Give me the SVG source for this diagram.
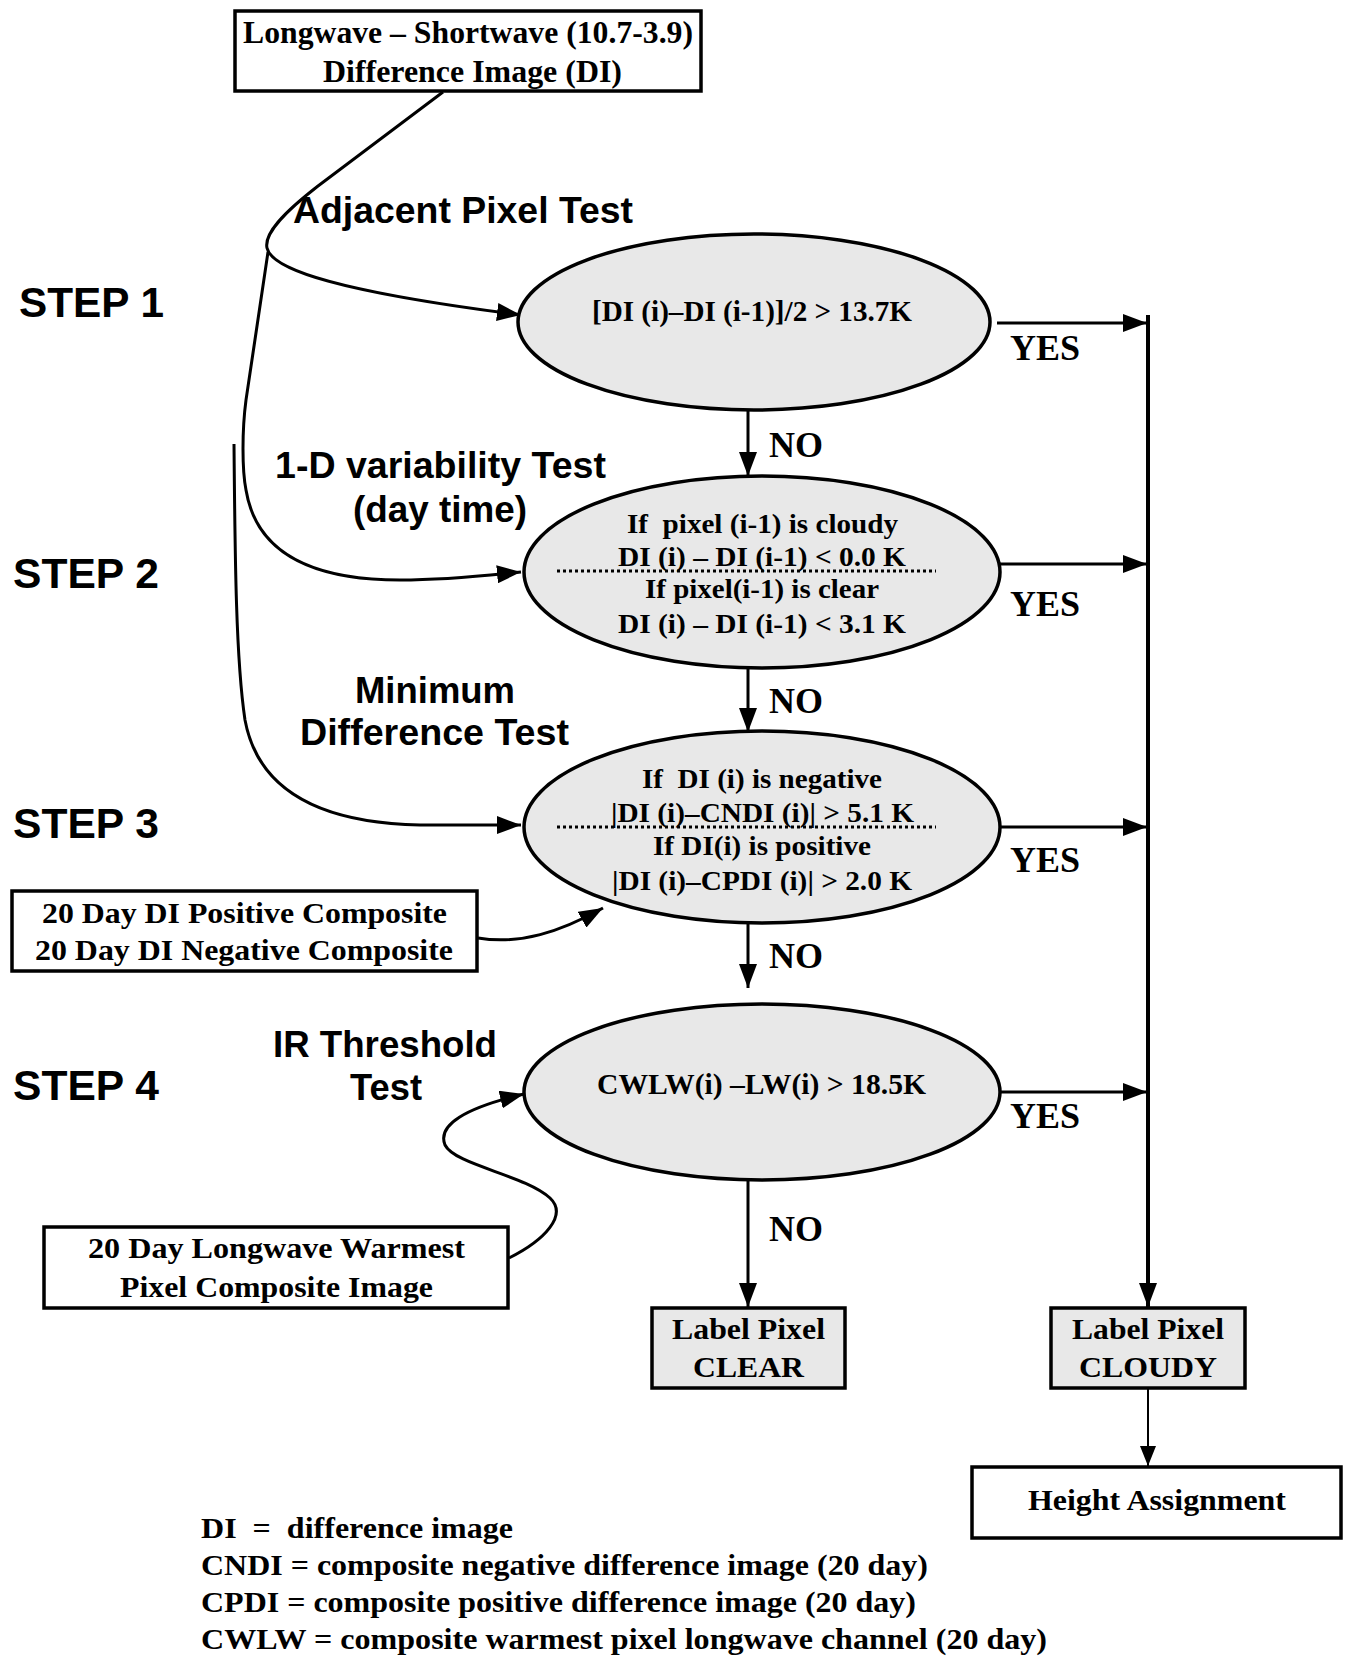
<svg xmlns="http://www.w3.org/2000/svg" width="1348" height="1658" viewBox="0 0 1348 1658">
<style>
.bg{fill:#ffffff}
.box{fill:#ffffff;stroke:#000;stroke-width:3.5}
.gbox{fill:#e8e8e8;stroke:#000;stroke-width:3.5}
.ell{fill:#e8e8e8;stroke:#000;stroke-width:3.5}
.ln{fill:none;stroke:#000;stroke-width:3}
.thin{fill:none;stroke:#000;stroke-width:2}
.dot{fill:none;stroke:#000;stroke-width:3;stroke-dasharray:3 3}
.tb{font-family:"Liberation Serif","Times New Roman",serif;font-weight:bold;fill:#000}
.sb{font-family:"Liberation Sans",Arial,sans-serif;font-weight:bold;fill:#000}
</style>
<defs>
<marker id="arr" markerUnits="userSpaceOnUse" markerWidth="24" markerHeight="18" refX="24" refY="9" orient="auto">
<path d="M0,0 L24,9 L0,18 z" fill="#000"/>
</marker>
<marker id="arrs" markerUnits="userSpaceOnUse" markerWidth="20" markerHeight="16" refX="20" refY="8" orient="auto">
<path d="M0,0 L20,8 L0,16 z" fill="#000"/>
</marker>
</defs>
<rect class="bg" x="0" y="0" width="1348" height="1658"/>

<g id="connectors">
<path class="ln" d="M443 92 L318 186 C282 214 264 234 267 248 C272 270 340 292 521 315" marker-end="url(#arr)"/>
<path class="ln" d="M268 252 L246 400 C242 430 242 470 246 490 C255 545 300 580 400 580 C450 580 490 575 521 572" marker-end="url(#arr)"/>
<path class="ln" d="M234 444 C235 560 236 660 245 720 C258 790 320 823 420 825 L521 825" marker-end="url(#arr)"/>
<path class="ln" d="M478 938 C520 945 560 932 603 908" marker-end="url(#arr)"/>
<path class="ln" d="M509 1258 C545 1240 568 1215 550 1198 C525 1175 455 1165 445 1145 C437 1125 465 1108 524 1094" marker-end="url(#arr)"/>
<path class="ln" d="M748 410 L748 476" marker-end="url(#arr)"/>
<path class="ln" d="M748 668 L748 732" marker-end="url(#arr)"/>
<path class="ln" d="M748 923 L748 988" marker-end="url(#arr)"/>
<path class="ln" d="M748 1179 L748 1307" marker-end="url(#arr)"/>
<path class="ln" d="M997 323 L1147 323" marker-end="url(#arr)"/>
<path class="ln" d="M1000 564 L1147 564" marker-end="url(#arr)"/>
<path class="ln" d="M1000 827 L1147 827" marker-end="url(#arr)"/>
<path class="ln" d="M1000 1092 L1147 1092" marker-end="url(#arr)"/>
<path class="ln" style="stroke-width:4" d="M1148 315 L1148 1307" marker-end="url(#arr)"/>
<path class="thin" d="M1148 1388 L1148 1466" marker-end="url(#arrs)"/>
<text class="tb" x="1010" y="360" font-size="36" textLength="70" lengthAdjust="spacingAndGlyphs">YES</text>
<text class="tb" x="1010" y="616" font-size="36" textLength="70" lengthAdjust="spacingAndGlyphs">YES</text>
<text class="tb" x="1010" y="872" font-size="36" textLength="70" lengthAdjust="spacingAndGlyphs">YES</text>
<text class="tb" x="1010" y="1128" font-size="36" textLength="70" lengthAdjust="spacingAndGlyphs">YES</text>
<text class="tb" x="769" y="457" font-size="36" textLength="54" lengthAdjust="spacingAndGlyphs">NO</text>
<text class="tb" x="769" y="713" font-size="36" textLength="54" lengthAdjust="spacingAndGlyphs">NO</text>
<text class="tb" x="769" y="968" font-size="36" textLength="54" lengthAdjust="spacingAndGlyphs">NO</text>
<text class="tb" x="769" y="1241" font-size="36" textLength="54" lengthAdjust="spacingAndGlyphs">NO</text>
</g>

<g id="labels">
<text class="sb" x="19" y="317" font-size="42" textLength="145" lengthAdjust="spacingAndGlyphs">STEP 1</text>
<text class="sb" x="13" y="588" font-size="42" textLength="146" lengthAdjust="spacingAndGlyphs">STEP 2</text>
<text class="sb" x="13" y="838" font-size="42" textLength="146" lengthAdjust="spacingAndGlyphs">STEP 3</text>
<text class="sb" x="13" y="1100" font-size="42" textLength="146" lengthAdjust="spacingAndGlyphs">STEP 4</text>
<text class="sb" x="293" y="223" font-size="36" textLength="340" lengthAdjust="spacingAndGlyphs">Adjacent Pixel Test</text>
<text class="sb" x="275" y="478" font-size="36" textLength="331" lengthAdjust="spacingAndGlyphs">1-D variability Test</text>
<text class="sb" x="353" y="522" font-size="36" textLength="174" lengthAdjust="spacingAndGlyphs">(day time)</text>
<text class="sb" x="355" y="703" font-size="36" textLength="160" lengthAdjust="spacingAndGlyphs">Minimum</text>
<text class="sb" x="300" y="745" font-size="36" textLength="269" lengthAdjust="spacingAndGlyphs">Difference Test</text>
<text class="sb" x="273" y="1057" font-size="36" textLength="224" lengthAdjust="spacingAndGlyphs">IR Threshold</text>
<text class="sb" x="350" y="1100" font-size="36" textLength="72" lengthAdjust="spacingAndGlyphs">Test</text>
</g>

<g id="node-source">
<rect class="box" x="235" y="11" width="466" height="80"/>
<text class="tb" x="243" y="43" font-size="31" textLength="450" lengthAdjust="spacingAndGlyphs">Longwave – Shortwave (10.7-3.9)</text>
<text class="tb" x="323" y="82" font-size="31" textLength="299" lengthAdjust="spacingAndGlyphs">Difference Image (DI)</text>
</g>

<g id="node-step1">
<ellipse class="ell" cx="754" cy="322" rx="236" ry="88"/>
<text class="tb" x="592" y="321" font-size="29" textLength="320" lengthAdjust="spacingAndGlyphs">[DI (i)–DI (i-1)]/2 &gt; 13.7K</text>
</g>

<g id="node-step2">
<ellipse class="ell" cx="762" cy="572" rx="238" ry="96"/>
<text class="tb" x="627" y="533" font-size="28" textLength="271" lengthAdjust="spacingAndGlyphs" xml:space="preserve">If  pixel (i-1) is cloudy</text>
<text class="tb" x="618" y="566" font-size="28" textLength="288" lengthAdjust="spacingAndGlyphs">DI (i) – DI (i-1) &lt; 0.0 K</text>
<path class="dot" d="M557 571 L936 571"/>
<text class="tb" x="645" y="598" font-size="28" textLength="234" lengthAdjust="spacingAndGlyphs">If pixel(i-1) is clear</text>
<text class="tb" x="618" y="633" font-size="28" textLength="288" lengthAdjust="spacingAndGlyphs">DI (i) – DI (i-1) &lt; 3.1 K</text>
</g>

<g id="node-step3">
<ellipse class="ell" cx="762" cy="827" rx="238" ry="96"/>
<text class="tb" x="642" y="788" font-size="28" textLength="240" lengthAdjust="spacingAndGlyphs" xml:space="preserve">If  DI (i) is negative</text>
<text class="tb" x="611" y="822" font-size="28" textLength="303" lengthAdjust="spacingAndGlyphs">|DI (i)–CNDI (i)| &gt; 5.1 K</text>
<path class="dot" d="M557 827 L936 827"/>
<text class="tb" x="653" y="855" font-size="28" textLength="218" lengthAdjust="spacingAndGlyphs">If DI(i) is positive</text>
<text class="tb" x="612" y="890" font-size="28" textLength="300" lengthAdjust="spacingAndGlyphs">|DI (i)–CPDI (i)| &gt; 2.0 K</text>
</g>

<g id="node-step4">
<ellipse class="ell" cx="762" cy="1092" rx="238" ry="88"/>
<text class="tb" x="597" y="1094" font-size="29" textLength="329" lengthAdjust="spacingAndGlyphs">CWLW(i) –LW(i) &gt; 18.5K</text>
</g>

<g id="node-composite">
<rect class="box" x="12" y="891" width="465" height="80"/>
<text class="tb" x="42" y="923" font-size="29" textLength="405" lengthAdjust="spacingAndGlyphs">20 Day DI Positive Composite</text>
<text class="tb" x="35" y="960" font-size="29" textLength="418" lengthAdjust="spacingAndGlyphs">20 Day DI Negative Composite</text>
</g>

<g id="node-warmest">
<rect class="box" x="44" y="1227" width="464" height="81"/>
<text class="tb" x="88" y="1258" font-size="29" textLength="377" lengthAdjust="spacingAndGlyphs">20 Day Longwave Warmest</text>
<text class="tb" x="120" y="1297" font-size="29" textLength="313" lengthAdjust="spacingAndGlyphs">Pixel Composite Image</text>
</g>

<g id="node-clear">
<rect class="gbox" x="652" y="1308" width="193" height="80"/>
<text class="tb" x="672" y="1339" font-size="30" textLength="153" lengthAdjust="spacingAndGlyphs">Label Pixel</text>
<text class="tb" x="693" y="1377" font-size="30" textLength="111" lengthAdjust="spacingAndGlyphs">CLEAR</text>
</g>

<g id="node-cloudy">
<rect class="gbox" x="1051" y="1308" width="194" height="80"/>
<text class="tb" x="1072" y="1339" font-size="30" textLength="152" lengthAdjust="spacingAndGlyphs">Label Pixel</text>
<text class="tb" x="1079" y="1377" font-size="30" textLength="138" lengthAdjust="spacingAndGlyphs">CLOUDY</text>
</g>

<g id="node-height">
<rect class="box" x="972" y="1467" width="369" height="71"/>
<text class="tb" x="1028" y="1510" font-size="30" textLength="258" lengthAdjust="spacingAndGlyphs">Height Assignment</text>
</g>

<g id="legend">
<text class="tb" x="201" y="1538" font-size="30" textLength="312" lengthAdjust="spacingAndGlyphs" xml:space="preserve">DI  =  difference image</text>
<text class="tb" x="201" y="1575" font-size="30" textLength="727" lengthAdjust="spacingAndGlyphs">CNDI = composite negative difference image (20 day)</text>
<text class="tb" x="201" y="1612" font-size="30" textLength="715" lengthAdjust="spacingAndGlyphs">CPDI = composite positive difference image (20 day)</text>
<text class="tb" x="201" y="1649" font-size="30" textLength="846" lengthAdjust="spacingAndGlyphs">CWLW = composite warmest pixel longwave channel (20 day)</text>
</g>
</svg>
